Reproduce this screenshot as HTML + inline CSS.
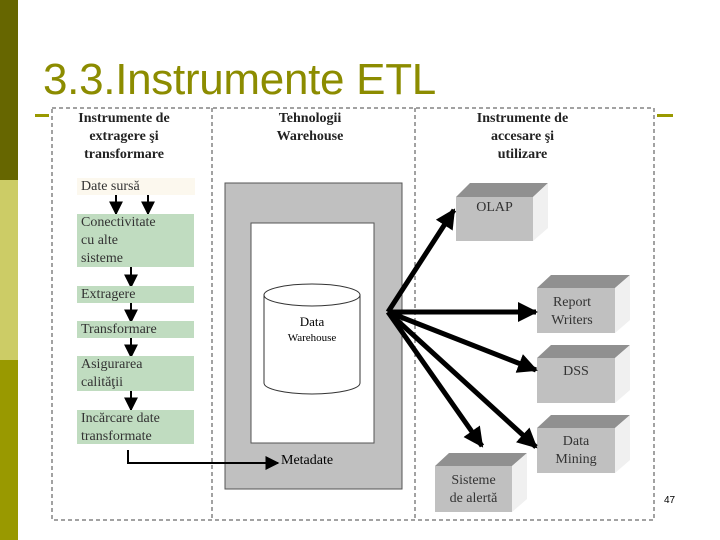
<!DOCTYPE html>
<html><head><style>
body{margin:0;width:720px;height:540px;background:#fff;position:relative;overflow:hidden;font-family:"Liberation Serif",serif}
.a{position:absolute}
.g{position:absolute;background:#c0dcc0;font-size:14px;color:#333;line-height:18px;padding-left:4px;box-sizing:border-box}
.h{position:absolute;font-weight:bold;font-size:14px;text-align:center;line-height:18px;color:#222}
</style></head><body>
<div class="a" style="left:0;top:0;width:18px;height:180px;background:#666600"></div>
<div class="a" style="left:0;top:180px;width:18px;height:180px;background:#cccc66"></div>
<div class="a" style="left:0;top:360px;width:18px;height:180px;background:#999900"></div>
<div class="a" style="left:43px;top:55px;font-family:'Liberation Sans',sans-serif;font-size:44px;color:#8c8c00;letter-spacing:-0.3px">3.3.Instrumente ETL</div>
<div class="a" style="left:35px;top:114px;width:14px;height:3px;background:#999900"></div>
<div class="a" style="left:657px;top:114px;width:16px;height:3px;background:#999900"></div>
<svg class="a" style="left:0;top:0" width="720" height="540">
<defs><marker id="m" viewBox="0 0 10 10" refX="9" refY="5" markerWidth="4" markerHeight="4" orient="auto"><path d="M0,0L10,5L0,10z" fill="#000"/></marker>
<marker id="s" viewBox="0 0 10 10" refX="9" refY="5" markerWidth="7" markerHeight="7" orient="auto"><path d="M0,0L10,5L0,10z" fill="#000"/></marker></defs>
<rect x="52" y="108" width="602" height="412" fill="none" stroke="#444" stroke-dasharray="4,3"/>
<line x1="212" y1="108" x2="212" y2="520" stroke="#444" stroke-dasharray="4,3"/>
<line x1="415" y1="108" x2="415" y2="520" stroke="#444" stroke-dasharray="4,3"/>
<rect x="225" y="183" width="177" height="306" fill="#c0c0c0" stroke="#555"/>
<rect x="251" y="223" width="123" height="220" fill="#fff" stroke="#555"/>
<path d="M264,295 V383 A48,11 0 0 0 360,383 V295" fill="#fff" stroke="#333"/>
<ellipse cx="312" cy="295" rx="48" ry="11" fill="#fff" stroke="#333"/>
<g fill="#c0c0c0">
<polygon points="456,197 470,183 548,183 533,197" fill="#909090"/><rect x="456" y="197" width="77" height="44"/><polygon points="533,197 548,183 548,228 533,241" fill="#f0f0f0"/>
<polygon points="537,288 551,275 630,275 615,288" fill="#909090"/><rect x="537" y="288" width="78" height="45"/><polygon points="615,288 630,275 630,320 615,333" fill="#f0f0f0"/>
<polygon points="537,358 551,345 630,345 615,358" fill="#909090"/><rect x="537" y="358" width="78" height="45"/><polygon points="615,358 630,345 630,390 615,403" fill="#f0f0f0"/>
<polygon points="537,428 551,415 630,415 615,428" fill="#909090"/><rect x="537" y="428" width="78" height="45"/><polygon points="615,428 630,415 630,460 615,473" fill="#f0f0f0"/>
<polygon points="435,466 449,453 527,453 512,466" fill="#909090"/><rect x="435" y="466" width="77" height="46"/><polygon points="512,466 527,453 527,499 512,512" fill="#f0f0f0"/>
</g>
<g stroke="#000" stroke-width="5" marker-end="url(#m)">
<line x1="388" y1="312" x2="454" y2="210"/>
<line x1="388" y1="312" x2="536" y2="312"/>
<line x1="388" y1="312" x2="536" y2="370"/>
<line x1="388" y1="312" x2="536" y2="447"/>
<line x1="388" y1="312" x2="482" y2="446"/>
</g>
<g stroke="#000" stroke-width="2" marker-end="url(#s)">
<line x1="116" y1="195" x2="116" y2="214"/><line x1="148" y1="195" x2="148" y2="214"/>
<line x1="131" y1="266" x2="131" y2="287"/><line x1="131" y1="287" x2="131" y2="322"/>
<line x1="131" y1="322" x2="131" y2="357"/><line x1="131" y1="391" x2="131" y2="410"/>
</g>
<polyline points="128,450 128,463 278,463" fill="none" stroke="#000" stroke-width="2" marker-end="url(#s)"/>
</svg>
<div class="h" style="left:55px;top:110px;width:138px">Instrumente de<br>extragere şi<br>transformare</div>
<div class="h" style="left:240px;top:110px;width:140px">Tehnologii<br>Warehouse</div>
<div class="h" style="left:445px;top:110px;width:155px">Instrumente de<br>accesare şi<br>utilizare</div>
<div class="g" style="left:77px;top:178px;width:118px;height:17px;background:#fcf8ee">Date sursă</div>
<div class="g" style="left:77px;top:214px;width:117px;height:53px">Conectivitate<br>cu alte<br>sisteme</div>
<div class="g" style="left:77px;top:286px;width:117px;height:17px">Extragere</div>
<div class="g" style="left:77px;top:321px;width:117px;height:17px">Transformare</div>
<div class="g" style="left:77px;top:356px;width:117px;height:35px">Asigurarea<br>calităţii</div>
<div class="g" style="left:77px;top:410px;width:117px;height:34px">Incărcare date<br>transformate</div>
<div class="a" style="left:264px;top:314px;width:96px;text-align:center;font-size:13px;line-height:15px">Data<br><span style="font-size:11px">Warehouse</span></div>
<div class="a" style="left:281px;top:453px;font-size:14px">Metadate</div>
<div class="a" style="left:456px;top:200px;width:77px;text-align:center;font-size:14px;color:#333">OLAP</div>
<div class="a" style="left:537px;top:294px;width:70px;text-align:center;font-size:14px;line-height:18px;color:#333">Report<br>Writers</div>
<div class="a" style="left:537px;top:364px;width:78px;text-align:center;font-size:14px;color:#333">DSS</div>
<div class="a" style="left:537px;top:433px;width:78px;text-align:center;font-size:14px;line-height:18px;color:#333">Data<br>Mining</div>
<div class="a" style="left:435px;top:472px;width:77px;text-align:center;font-size:14px;line-height:18px;color:#333">Sisteme<br>de alertă</div>
<div class="a" style="left:664px;top:495px;font-family:'Liberation Sans',sans-serif;font-size:10px">47</div>
</body></html>
